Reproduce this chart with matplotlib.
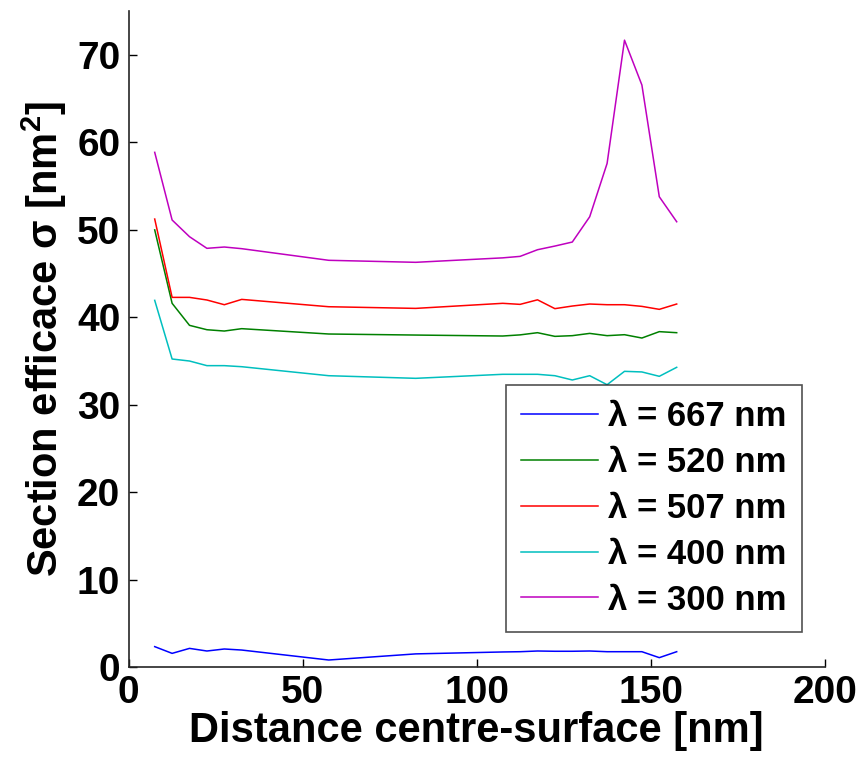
import matplotlib
matplotlib.use("Agg")
import matplotlib.pyplot as plt

plt.rcParams['font.family'] = ['Liberation Sans', 'DejaVu Sans']
plt.rcParams['font.weight'] = 'bold'
plt.rcParams['mathtext.fontset'] = 'custom'
plt.rcParams['mathtext.rm'] = 'Liberation Sans:bold'
plt.rcParams['mathtext.bf'] = 'Liberation Sans:bold'
plt.rcParams['mathtext.it'] = 'Liberation Sans:bold'

distance = [7.5, 12.5, 17.5, 22.5, 27.5, 32.5, 57.5, 82.5, 107.5, 112.5,
            117.5, 122.5, 127.5, 132.5, 137.5, 142.5, 147.5, 152.5, 157.5]

sigma_667 = [2.33, 1.56, 2.13, 1.83, 2.06, 1.94, 0.80, 1.50, 1.72, 1.75,
             1.83, 1.80, 1.80, 1.83, 1.75, 1.75, 1.75, 1.07, 1.75]
sigma_520 = [50.0, 41.6, 39.08, 38.58, 38.43, 38.7, 38.09, 37.97, 37.86, 37.99,
             38.24, 37.82, 37.9, 38.16, 37.9, 38.01, 37.63, 38.36, 38.24]
sigma_507 = [51.24, 42.28, 42.28, 41.98, 41.44, 42.05, 41.21, 41.02, 41.6, 41.48,
             42.0, 40.99, 41.29, 41.52, 41.44, 41.44, 41.25, 40.91, 41.52]
sigma_400 = [41.94, 35.23, 35.0, 34.47, 34.47, 34.35, 33.32, 33.02, 33.48, 33.48,
             33.48, 33.32, 32.83, 33.32, 32.29, 33.82, 33.75, 33.25, 34.28]
sigma_300 = [58.87, 51.13, 49.22, 47.89, 48.04, 47.85, 46.52, 46.29, 46.8, 46.97,
             47.73, 48.15, 48.61, 51.5, 57.6, 71.7, 66.57, 53.79, 50.93]

labels = ['λ = 667 nm', 'λ = 520 nm', 'λ = 507 nm', 'λ = 400 nm', 'λ = 300 nm']
colors = ['#0000ff', '#008000', '#ff0000', '#00bfbf', '#bf00bf']
series = [sigma_667, sigma_520, sigma_507, sigma_400, sigma_300]

x_ticks = [0, 50, 100, 150, 200]
y_ticks = [0, 10, 20, 30, 40, 50, 60, 70]

fig = plt.figure(figsize=(8.62, 7.65), dpi=100)
ax = fig.add_axes([0.1492, 0.1281, 0.8074, 0.8571])

for s, c, l in zip(series, colors, labels):
    ax.plot(distance, s, color=c, lw=1.1, label=l)

ax.set_xlim(0, 200)
ax.set_ylim(0, 75)
ax.set_xticks(x_ticks)
ax.set_yticks(y_ticks)
ax.spines['top'].set_visible(False)
ax.spines['right'].set_visible(False)
for sp in ('left', 'bottom'):
    ax.spines[sp].set_linewidth(1.2)
    ax.spines[sp].set_color('#262626')
ax.tick_params(direction='in', length=6, width=1.0, labelsize=28, pad=6)
for t in ax.get_xticklabels() + ax.get_yticklabels():
    t.set_fontweight('bold')

ax.set_xlabel('Distance centre-surface [nm]', fontsize=30, fontweight='bold', labelpad=0)
ax.set_ylabel('Section efficace σ [nm$^{2}$]', fontsize=30, fontweight='bold', labelpad=6)

leg = ax.legend(loc='lower right', bbox_to_anchor=(0.968, 0.053), fontsize=25,
                handlelength=2.2, handletextpad=0.3, labelspacing=0.37,
                frameon=True, fancybox=False, borderpad=0.45, borderaxespad=0)
leg.get_frame().set_edgecolor('#262626')
leg.get_frame().set_linewidth(1.2)
for t in leg.get_texts():
    t.set_fontweight('bold')

fig.savefig('out.png', dpi=100)
